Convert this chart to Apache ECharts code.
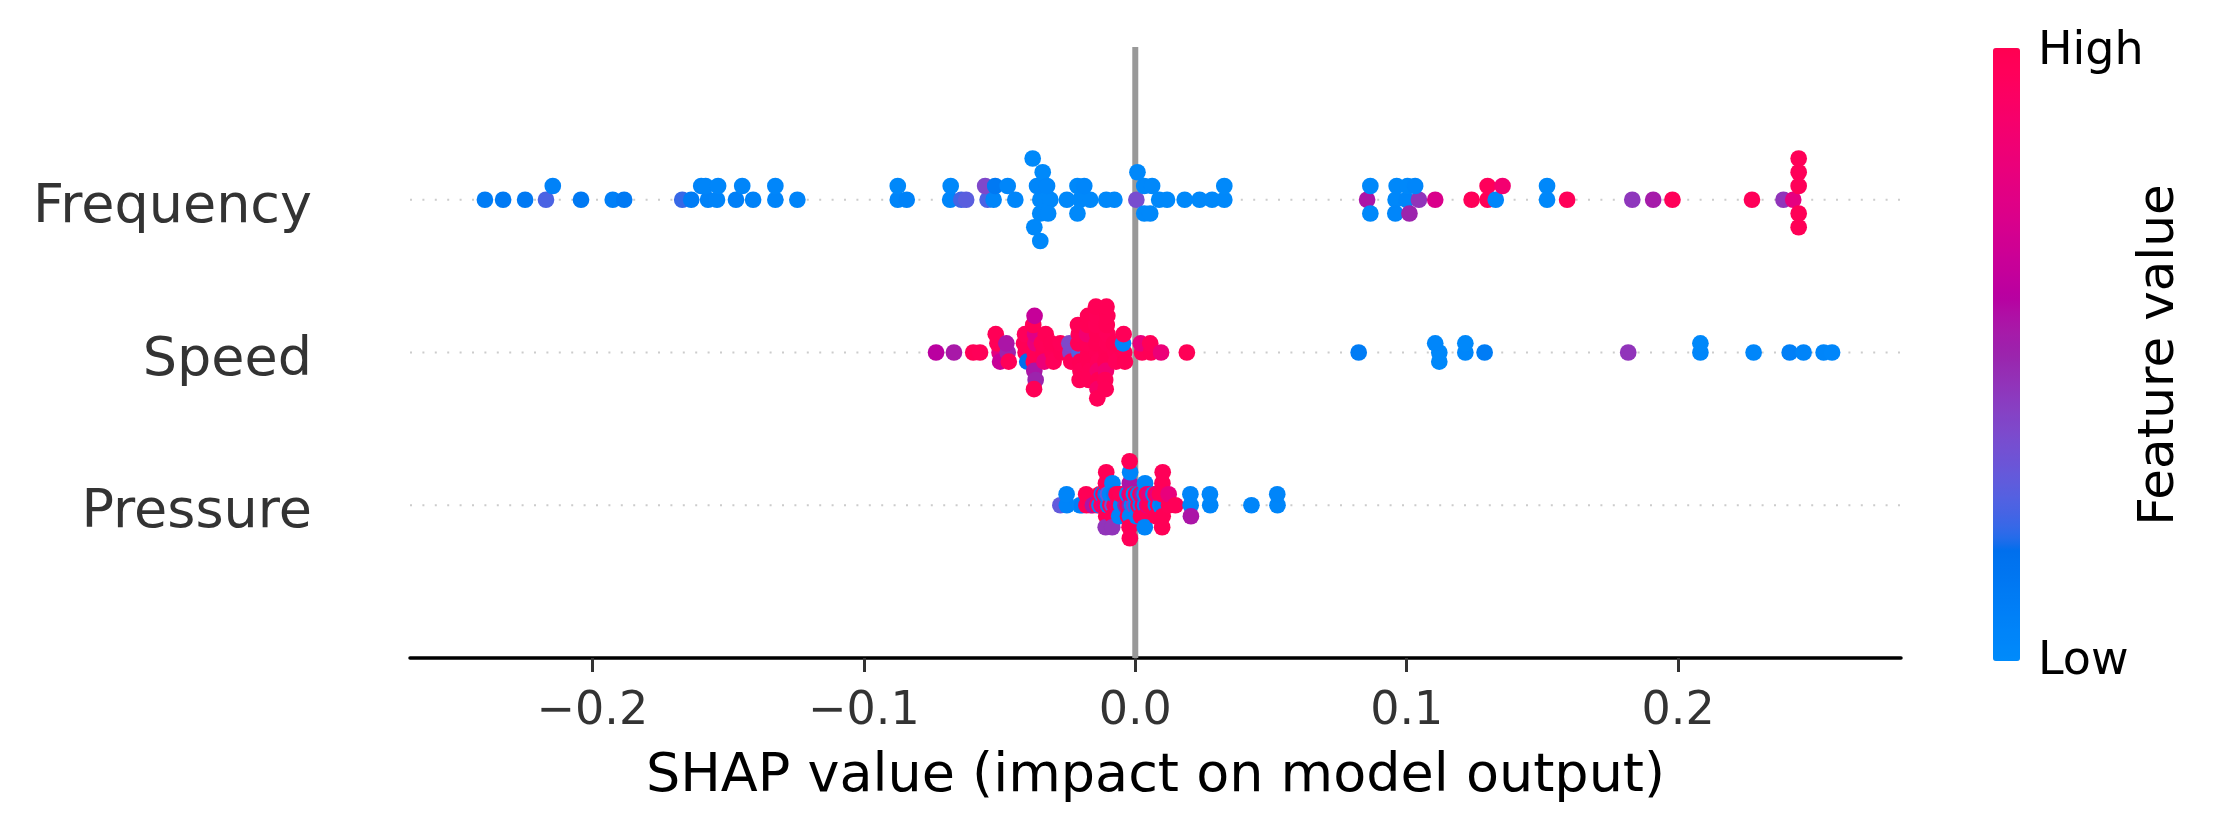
<!DOCTYPE html>
<html>

<head>
    <meta charset="utf-8">
    <title>SHAP summary</title>
    <script type="text/javascript" src="https://cdn.jsdelivr.net/npm/echarts@6.0.0/dist/echarts.min.js"></script>
    <style>
        body {
            margin: 0;
            background: #fff;
        }

        #app {
            width: 2218px;
            height: 831px;
        }
    </style>
</head>

<body>
    <div id="app"></div>
</body>
<script type="text/javascript">
    // rows from bottom to top
    var features = ['Pressure', 'Speed', 'Frequency'];
    var xTickValues = [-0.2, -0.1, 0.0, 0.1, 0.2];
    var xRange = [-0.2672, 0.2821];

    // shap values and (normalised) feature values, one pair of lists per feature
    var frequencyShap = [
        -0.2396, -0.2329, -0.2248, -0.2171, -0.2146, -0.2042, -0.1925, -0.1883,
        -0.1669, -0.1636, -0.1599, -0.1574, -0.1583, -0.1541, -0.1537, -0.1471,
        -0.1408, -0.1448, -0.1326, -0.1326, -0.1245, -0.0875, -0.0875, -0.0842,
        -0.0682, -0.0680, -0.0641, -0.0623, -0.0544, -0.0553, -0.0522, -0.0516,
        -0.0442, -0.0470,
        -0.0350, -0.0362, -0.0350, -0.0341, -0.0372, -0.0378, -0.0350,
        -0.0313, -0.0325, -0.0321, -0.0252, -0.0203, -0.0213, -0.0213, -0.0166, -0.0188,
        -0.0107, -0.0077,
        0.0004, 0.0033, 0.0033, 0.0008, 0.0088, 0.0062, 0.0055, 0.0117, 0.0182, 0.0237, 0.0283, 0.0328, 0.0328,
        0.0854, 0.0866, 0.0866, 0.0959, 0.0963, 0.0958, 0.0999, 0.1003, 0.1010, 0.1045, 0.1031, 0.1105,
        0.1239, 0.1298, 0.1298, 0.1328, 0.1353, 0.1517, 0.1517, 0.1591, 0.1831, 0.1908, 0.1979, 0.2272,
        0.2388, 0.2424, 0.2444, 0.2444, 0.2444, 0.2444, 0.2444
    ];
    var frequencyValue = [
        0.10, 0.12, 0.12, 0.25, 0.06, 0.12, 0.08, 0.12,
        0.22, 0.10, 0.05, 0.06, 0.04, 0.05, 0.03, 0.08,
        0.06, 0.04, 0.05, 0.03, 0.05, 0.04, 0.02, 0.06,
        0.03, 0.02, 0.24, 0.28, 0.25, 0.38, 0.04, 0.12,
        0.03, 0.03,
        0.02, 0.03, 0.02, 0.01, 0.02, 0.01, 0.02,
        0.02, 0.03, 0.02, 0.02, 0.02, 0.02, 0.01, 0.02, 0.03,
        0.02, 0.02,
        0.36, 0.02, 0.02, 0.02, 0.02, 0.02, 0.02, 0.02, 0.02, 0.02, 0.02, 0.02, 0.01,
        0.55, 0.02, 0.02, 0.02, 0.02, 0.03, 0.03, 0.02, 0.50, 0.45, 0.03, 0.72,
        0.97, 0.98, 0.96, 0.03, 0.86, 0.02, 0.02, 0.97, 0.44, 0.53, 0.97, 0.97,
        0.45, 0.78, 0.97, 0.98, 0.97, 0.98, 0.97
    ];

    var speedShap = [
        -0.0734, -0.0668, -0.0597, -0.0572,
        -0.0500, -0.0508, -0.0498, -0.0514,
        -0.0470, -0.0475, -0.0466,
        -0.0404, -0.0410, -0.0398, -0.0406,
        -0.0371, -0.0368, -0.0374, -0.0369, -0.0372, -0.0376, -0.0367, -0.0371, -0.0373,
        -0.0338, -0.0344, -0.0335, -0.0330,
        -0.0305, -0.0309, -0.0301,
        -0.0272, -0.0276,
        -0.0239, -0.0243, -0.0236,
        -0.0206, -0.0210, -0.0203, -0.0208, -0.0202, -0.0211, -0.0205,
        -0.0173, -0.0176, -0.0170, -0.0178, -0.0168, -0.0175, -0.0171, -0.0174,
        -0.0140, -0.0143, -0.0137, -0.0141, -0.0138, -0.0144, -0.0136, -0.0142, -0.0139, -0.0145, -0.0140,
        -0.0107, -0.0104, -0.0110, -0.0102, -0.0108, -0.0105, -0.0111, -0.0103, -0.0109, -0.0106,
        -0.0074, -0.0078, -0.0071,
        -0.0041, -0.0045, -0.0038, -0.0043,
        0.0025, 0.0020, 0.0058, 0.0055, 0.0095, 0.0190,
        0.0823, 0.1120, 0.1105, 0.1120, 0.1216, 0.1216, 0.1287, 0.1816,
        0.2082, 0.2082, 0.2278, 0.2411, 0.2462, 0.2536, 0.2567
    ];
    var speedValue = [
        0.60, 0.54, 0.98, 0.97,
        0.78, 0.97, 0.65, 0.98,
        0.50, 0.55, 0.97,
        0.97, 0.98, 0.18, 0.96,
        0.97, 0.80, 0.98, 0.75, 0.55, 0.97, 0.50, 0.64, 0.98,
        0.98, 0.97, 0.82, 0.98,
        0.97, 0.98, 0.96,
        0.98, 0.97,
        0.40, 0.38, 0.97,
        0.26, 0.97, 0.98, 0.96, 0.97, 0.98, 0.97,
        0.98, 0.97, 0.98, 0.86, 0.97, 0.98, 0.97, 0.98,
        0.97, 0.98, 0.96, 0.98, 0.88, 0.97, 0.98, 0.97, 0.90, 0.98, 0.97,
        0.98, 0.97, 0.98, 0.96, 0.86, 0.98, 0.97, 0.98, 0.97, 0.98,
        0.97, 0.98, 0.96,
        0.97, 0.04, 0.98, 0.97,
        0.97, 0.80, 0.98, 0.97, 0.82, 0.98,
        0.10, 0.02, 0.03, 0.02, 0.03, 0.02, 0.10, 0.45,
        0.03, 0.02, 0.03, 0.08, 0.05, 0.04, 0.03
    ];

    var pressureShap = [
        -0.0276, -0.0252, -0.0253, -0.0204, -0.0196, -0.0180, -0.0181, -0.0164, -0.0156, -0.0140,
        -0.0132, -0.0131, -0.0124, -0.0123, -0.0116, -0.0117,
        -0.0108, -0.0109, -0.0107, -0.0108, -0.0109, -0.0107,
        -0.0100, -0.0101, -0.0092, -0.0093,
        -0.0084, -0.0085, -0.0083, -0.0084, -0.0085,
        -0.0076, -0.0077, -0.0068, -0.0069, -0.0060, -0.0061, -0.0059, -0.0052, -0.0053,
        -0.0036, -0.0037, -0.0028, -0.0029, -0.0027,
        -0.0020, -0.0021, -0.0019, -0.0020, -0.0021, -0.0019, -0.0020, -0.0021,
        -0.0012, -0.0013, -0.0004, -0.0005, 0.0004, 0.0003, 0.0005, 0.0012, 0.0011,
        0.0020, 0.0019, 0.0021, 0.0028, 0.0027,
        0.0036, 0.0035, 0.0037, 0.0036, 0.0035,
        0.0044, 0.0043, 0.0052, 0.0051, 0.0068, 0.0067, 0.0076, 0.0075, 0.0077,
        0.0084, 0.0083, 0.0092, 0.0091,
        0.0100, 0.0099, 0.0101, 0.0100, 0.0099, 0.0101,
        0.0124, 0.0123, 0.0148, 0.0204, 0.0203, 0.0205, 0.0276, 0.0275, 0.0428, 0.0524, 0.0523
    ];
    var pressureValue = [
        0.30, 0.05, 0.04, 0.04, 0.08, 0.97, 0.98, 0.97, 0.55, 0.98,
        0.04, 0.97, 0.97, 0.05, 0.80, 0.98,
        0.97, 0.10, 0.98, 0.97, 0.45, 0.98,
        0.05, 0.30, 0.97, 0.04,
        0.30, 0.05, 0.97, 0.04, 0.45,
        0.97, 0.10, 0.80, 0.98, 0.97, 0.98, 0.04, 0.04, 0.97,
        0.50, 0.97, 0.97, 0.04, 0.98,
        0.50, 0.75, 0.05, 0.55, 0.98, 0.04, 0.97, 0.98,
        0.04, 0.97, 0.40, 0.04, 0.05, 0.97, 0.04, 0.98, 0.05,
        0.04, 0.97, 0.98, 0.97, 0.50,
        0.05, 0.04, 0.97, 0.03, 0.04,
        0.80, 0.98, 0.97, 0.80, 0.97, 0.04, 0.05, 0.97, 0.98,
        0.97, 0.80, 0.04, 0.97,
        0.08, 0.97, 0.98, 0.97, 0.98, 0.97,
        0.97, 0.80, 0.97, 0.05, 0.04, 0.55, 0.04, 0.03, 0.04, 0.03, 0.04
    ];

    // same stacking as shap's beeswarm: 100 bins, alternate up/down inside a bin
    function beeswarm(shaps) {
        var lo = Math.min.apply(null, shaps);
        var hi = Math.max.apply(null, shaps);
        var quant = shaps.map(function(v) {
            return Math.round(100 * (v - lo) / (hi - lo + 1e-8));
        });
        var order = shaps.map(function(v, i) { return i; });
        order.sort(function(a, b) { return quant[a] - quant[b] || a - b; });
        var ys = shaps.map(function() { return 0; });
        var layer = 0, lastBin = -1;
        order.forEach(function(i) {
            if (quant[i] !== lastBin) layer = 0;
            ys[i] = Math.ceil(layer / 2) * ((layer % 2) * 2 - 1);
            layer++;
            lastBin = quant[i];
        });
        var top = Math.max.apply(null, ys) + 1;
        return ys.map(function(y) { return y * 0.9 * (0.4 / top); });
    }

    // shap red_blue colormap (interpolated in Lch)
    function lch2hex(l, c, h) {
        var a = c * Math.cos(h), b = c * Math.sin(h);
        var fy = (l + 16) / 116, fx = fy + a / 500, fz = fy - b / 200;
        var inv = function(t) { return t > 0.2068966 ? t * t * t : (t - 16 / 116) / 7.787; };
        var X = 0.95047 * inv(fx), Y = inv(fy), Z = 1.08883 * inv(fz);
        var rgb = [
            3.2404813432 * X - 1.5371515163 * Y - 0.4985363262 * Z,
            -0.9692549500 * X + 1.8759900015 * Y + 0.0415559266 * Z,
            0.0556466391 * X - 0.2040413384 * Y + 1.0573110696 * Z
        ];
        return '#' + rgb.map(function(v) {
            v = v > 0.0031308 ? 1.055 * Math.pow(v, 1 / 2.4) - 0.055 : 12.92 * v;
            v = Math.round(Math.min(1, Math.max(0, v)) * 255);
            return (v < 16 ? '0' : '') + v.toString(16);
        }).join('');
    }

    function redBlue() {
        var n = 100, colors = [];
        var h0 = 4.6588, h1 = 0.35470565 + 2 * Math.PI;
        for (var i = 0; i < n; i++) {
            var l = i < n / 2 ? 54 + (40 - 54) * i / (n / 2 - 1) : 40 + (54 - 40) * (i - n / 2) / (n / 2 - 1);
            var c = 70 + (90 - 70) * i / (n - 1);
            var h = h0 + (h1 - h0) * i / (n - 1);
            colors.push(lch2hex(l, c, h));
        }
        return colors;
    }

    var rows = [
        [pressureShap, pressureValue],
        [speedShap, speedValue],
        [frequencyShap, frequencyValue]
    ];
    var points = [];
    rows.forEach(function(row, r) {
        var ys = beeswarm(row[0]);
        row[0].forEach(function(v, i) {
            points.push([v, r + ys[i], row[1][i]]);
        });
    });

    var font = '"DejaVu Sans"';
    var series = [];
    features.forEach(function(name, r) {
        series.push({
            type: 'line',
            data: [[xRange[0], r], [xRange[1], r]],
            showSymbol: false,
            silent: true,
            z: 1,
            lineStyle: { color: '#cccccc', width: 2, type: [2, 10.4] }
        });
    });
    series.push({
        type: 'line',
        data: [[0, -1], [0, 3]],
        showSymbol: false,
        silent: true,
        z: 1,
        lineStyle: { color: '#999999', width: 6 }
    });
    series.push({
        name: 'points',
        type: 'scatter',
        data: points,
        symbolSize: 16.7,
        silent: true,
        z: 3,
        itemStyle: { opacity: 1 }
    });

    var option = {
        animation: false,
        backgroundColor: '#ffffff',
        textStyle: { fontFamily: font },
        grid: { left: 410, right: 317, top: 47, bottom: 173 },
        xAxis: {
            type: 'value',
            min: xRange[0],
            max: xRange[1],
            name: 'SHAP value (impact on model output)',
            nameLocation: 'middle',
            nameGap: 92,
            nameTextStyle: { fontSize: 54, color: '#000000', fontFamily: font },
            axisLine: { show: true, onZero: false, lineStyle: { color: '#000000', width: 3.5 } },
            axisTick: { show: true, customValues: xTickValues, length: 14, lineStyle: { color: '#333333', width: 3 } },
            axisLabel: {
                customValues: xTickValues,
                margin: 31,
                fontSize: 46,
                color: '#333333',
                fontFamily: font,
                formatter: function(v) {
                    return (v < 0 ? '\u2212' : '') + Math.abs(v).toFixed(1);
                }
            },
            splitLine: { show: false }
        },
        yAxis: {
            type: 'value',
            min: -1,
            max: 3,
            interval: 1,
            axisLine: { show: false, onZero: false },
            axisTick: { show: false },
            splitLine: { show: false },
            axisLabel: {
                margin: 98,
                formatter: function(v) { return features[v] ? '{f|' + features[v] + '}' : ''; },
                rich: {
                    f: { fontSize: 54, color: '#333333', fontFamily: font, padding: [16, 0, 0, 0] }
                }
            }
        },
        visualMap: {
            type: 'continuous',
            min: 0,
            max: 1,
            dimension: 2,
            seriesIndex: series.length - 1,
            calculable: false,
            hoverLink: false,
            orient: 'vertical',
            left: 1993,
            top: 48,
            padding: 0,
            itemWidth: 27,
            itemHeight: 613,
            inRange: { color: redBlue() }
        },
        graphic: [
            { type: 'text', x: 2038, y: 52, style: { text: 'High', font: '46px ' + font, fill: '#000000', verticalAlign: 'middle' } },
            { type: 'text', x: 2038, y: 662, style: { text: 'Low', font: '46px ' + font, fill: '#000000', verticalAlign: 'middle' } },
            { type: 'text', x: 2160, y: 355, rotation: Math.PI / 2, style: { text: 'Feature value', font: '50px ' + font, fill: '#000000', align: 'center', verticalAlign: 'middle' } }
        ],
        series: series
    };

    var myChart = echarts.init(document.getElementById('app'));
    myChart.setOption(option);
</script>

</html>
